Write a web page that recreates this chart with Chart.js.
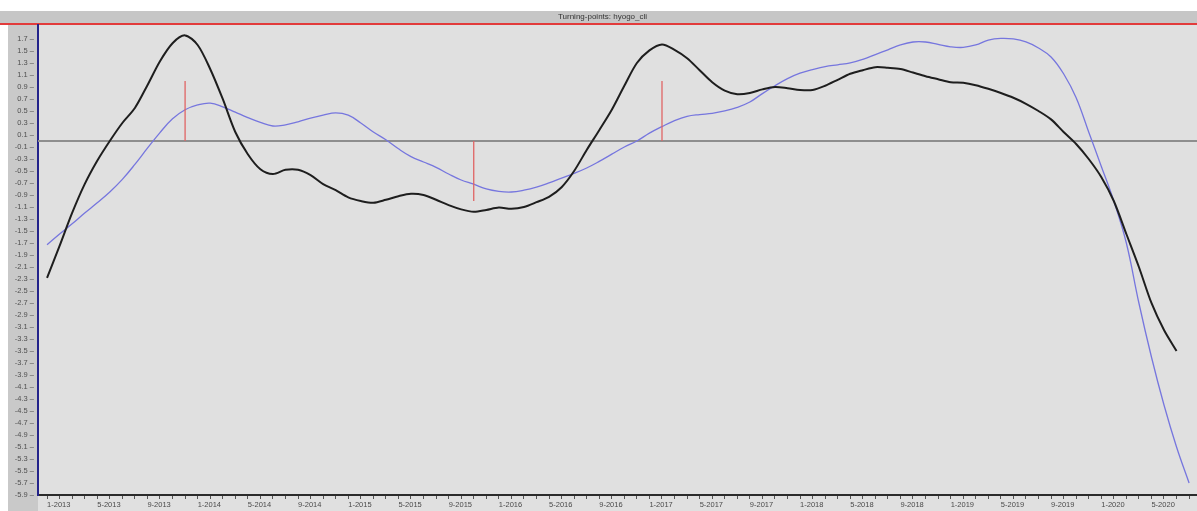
<!DOCTYPE html>
<html>
<head>
<meta charset="utf-8">
<script src="https://cdn.jsdelivr.net/npm/chart.js@4/dist/chart.umd.min.js"></script>
<style>
  html, body { margin: 0; padding: 0; background: #fff; }
  #wrap { width: 1197px; height: 511px; }
</style>
</head>
<body>
<div id="wrap"><canvas id="cli-chart"></canvas></div>
<script>
// Data (month index 0 = 1-2013)
const blackSeries = [
    -2.28, -1.75, -1.2, -0.72, -0.33, 0.0, 0.3, 0.55, 0.93, 1.33,
    1.63, 1.76, 1.6, 1.2, 0.7, 0.15, -0.22, -0.47, -0.55, -0.48,
    -0.48, -0.57, -0.72, -0.82, -0.94, -1.0, -1.03, -0.98, -0.92, -0.88,
    -0.9, -0.98, -1.07, -1.14, -1.18, -1.15, -1.11, -1.13, -1.1, -1.02,
    -0.93, -0.77, -0.5, -0.15, 0.18, 0.52, 0.92, 1.3, 1.51, 1.61,
    1.52, 1.38, 1.18, 0.98, 0.84, 0.78, 0.8, 0.86, 0.9, 0.88,
    0.85, 0.85, 0.92, 1.02, 1.12, 1.18, 1.23, 1.22, 1.2, 1.14,
    1.08, 1.03, 0.98, 0.97, 0.93, 0.87, 0.8, 0.72, 0.62, 0.5,
    0.36, 0.15, -0.05, -0.3, -0.6, -1.0, -1.55, -2.1, -2.7, -3.15,
    -3.5,
];
const blueSeries = [
    -1.73, -1.55, -1.38, -1.2, -1.03, -0.85, -0.64, -0.39, -0.12, 0.14,
    0.37, 0.52, 0.6, 0.63, 0.57, 0.48, 0.39, 0.31, 0.25, 0.27,
    0.32, 0.38, 0.43, 0.47, 0.43, 0.3, 0.15, 0.02, -0.13, -0.26,
    -0.35, -0.44, -0.55, -0.65, -0.72, -0.8, -0.84, -0.85, -0.82, -0.77,
    -0.7, -0.62, -0.54, -0.45, -0.34, -0.22, -0.1, 0.0, 0.13, 0.24,
    0.34, 0.41, 0.44, 0.46, 0.5, 0.56, 0.65, 0.79, 0.92, 1.04,
    1.13, 1.19, 1.24, 1.27, 1.3, 1.36, 1.44, 1.52, 1.6, 1.65,
    1.65, 1.61, 1.57, 1.56, 1.6, 1.68, 1.71, 1.7, 1.65, 1.55,
    1.4, 1.12, 0.72, 0.15, -0.42, -1.0, -1.7, -2.7, -3.6, -4.4,
    -5.1, -5.7,
];

// Turning points (month index) and marker height
const peakMonths = [11, 49];
const troughMonths = [34];
const markerHeight = 1.0;

// Tick labels
const xTickLabels = [
    "1-2013", "5-2013", "9-2013", "1-2014", "5-2014", "9-2014",
    "1-2015", "5-2015", "9-2015", "1-2016", "5-2016", "9-2016",
    "1-2017", "5-2017", "9-2017", "1-2018", "5-2018", "9-2018",
    "1-2019", "5-2019", "9-2019", "1-2020", "5-2020",
];
const yTickValues = [
    1.7, 1.5, 1.3, 1.1, 0.9, 0.7, 0.5, 0.3, 0.1, -0.1,
    -0.3, -0.5, -0.7, -0.9, -1.1, -1.3, -1.5, -1.7, -1.9, -2.1,
    -2.3, -2.5, -2.7, -2.9, -3.1, -3.3, -3.5, -3.7, -3.9, -4.1,
    -4.3, -4.5, -4.7, -4.9, -5.1, -5.3, -5.5, -5.7, -5.9,
];
const monthCount = 92;

const xMin = -0.72;
const xMax = 91.63;

// Backgrounds: title bar, left gutter, plot area, red rule
const backgroundPlugin = {
    id: "panelBackground",
    beforeDraw(chart) {
        const ctx = chart.ctx;
        const area = chart.chartArea;
        ctx.save();
        ctx.fillStyle = "#ffffff";
        ctx.fillRect(0, 0, chart.width, chart.height);
        ctx.fillStyle = "#c6c6c6";
        ctx.fillRect(0, 11, chart.width, 13);
        ctx.fillStyle = "#c9c9c9";
        ctx.fillRect(8, 24, area.left - 8, chart.height - 24);
        ctx.fillStyle = "#e0e0e0";
        ctx.fillRect(area.left, 24, chart.width - area.left, chart.height - 24);
        ctx.fillStyle = "#e23b3b";
        ctx.fillRect(0, 23, chart.width, 2);
        ctx.restore();
    },
};

function xy(values) {
    return values.map((v, i) => ({ x: i, y: v }));
}

const markerSets = [];
peakMonths.forEach((m) => {
    markerSets.push([{ x: m, y: 0 }, { x: m, y: markerHeight }]);
});
troughMonths.forEach((m) => {
    markerSets.push([{ x: m, y: 0 }, { x: m, y: -markerHeight }]);
});

const datasets = [];
markerSets.forEach((pts) => {
    datasets.push({
        data: pts,
        borderColor: "#e06464",
        borderWidth: 1.3,
        pointRadius: 0,
        order: 0,
    });
});
datasets.push({
    label: "hyogo_cli",
    data: xy(blackSeries),
    borderColor: "#1e1e1e",
    borderWidth: 2,
    pointRadius: 0,
    tension: 0.3,
    order: 1,
});
datasets.push({
    label: "reference",
    data: xy(blueSeries),
    borderColor: "rgba(118, 118, 222, 1)",
    borderWidth: 1.3,
    pointRadius: 0,
    tension: 0.4,
    order: 2,
});
datasets.push({
    label: "zero",
    data: [{ x: xMin, y: 0 }, { x: xMax, y: 0 }],
    borderColor: "#8e8e8e",
    borderWidth: 2,
    pointRadius: 0,
    order: 3,
});

const ctx = document.getElementById("cli-chart").getContext("2d");
new Chart(ctx, {
    type: "line",
    data: { datasets: datasets },
    plugins: [backgroundPlugin],
    options: {
        responsive: true,
        maintainAspectRatio: false,
        animation: false,
        layout: { padding: { left: 8, right: 0, top: 0, bottom: 0 } },
        plugins: {
            legend: { display: false },
            tooltip: { enabled: false },
            title: {
                display: true,
                text: "Turning-points: hyogo_cli",
                color: "#333333",
                font: { family: "Liberation Sans", size: 8, weight: "normal" },
                padding: { top: 12, bottom: 3.4 },
            },
        },
        scales: {
            x: {
                type: "linear",
                min: xMin,
                max: xMax,
                afterBuildTicks: (scale) => {
                    const ticks = [];
                    for (let m = 0; m < monthCount; m++) {
                        ticks.push({ value: m });
                    }
                    scale.ticks = ticks;
                },
                afterFit: (scale) => {
                    scale.height = 16;
                },
                ticks: {
                    autoSkip: false,
                    maxRotation: 0,
                    align: "start",
                    padding: 1,
                    color: "#4a4a4a",
                    font: { family: "Liberation Sans", size: 7.5 },
                    callback: (value) => {
                        return value % 4 === 0 ? xTickLabels[value / 4] : "";
                    },
                },
                grid: {
                    drawOnChartArea: false,
                    tickLength: 4,
                    tickColor: "#555555",
                },
                border: { color: "#2b2b2b", width: 2 },
            },
            y: {
                type: "linear",
                min: -5.9,
                max: 1.933,
                afterBuildTicks: (scale) => {
                    scale.ticks = yTickValues.map((v) => ({ value: v }));
                },
                afterFit: (scale) => {
                    scale.width = 30;
                },
                ticks: {
                    autoSkip: false,
                    padding: 4,
                    color: "#505050",
                    font: { family: "Liberation Sans", size: 7.5 },
                    callback: (value) => value.toFixed(1) + " \u2013",
                },
                grid: { drawOnChartArea: false, drawTicks: false },
                border: { color: "#23238a", width: 2 },
            },
        },
    },
});
</script>
</body>
</html>
